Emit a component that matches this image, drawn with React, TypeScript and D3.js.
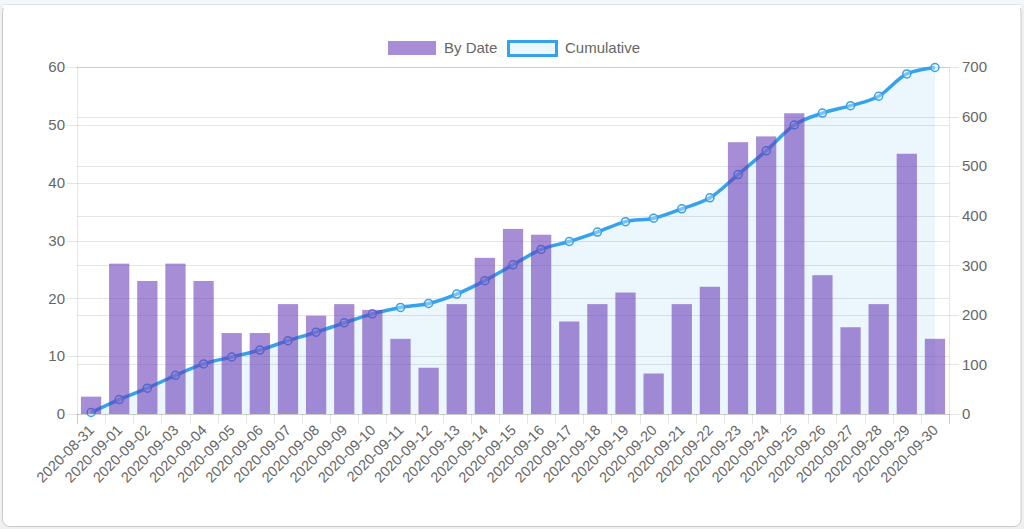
import React from "react";
import * as d3 from "d3";

const dates = [
  "2020-08-31","2020-09-01","2020-09-02","2020-09-03","2020-09-04","2020-09-05","2020-09-06",
  "2020-09-07","2020-09-08","2020-09-09","2020-09-10","2020-09-11","2020-09-12","2020-09-13",
  "2020-09-14","2020-09-15","2020-09-16","2020-09-17","2020-09-18","2020-09-19","2020-09-20",
  "2020-09-21","2020-09-22","2020-09-23","2020-09-24","2020-09-25","2020-09-26","2020-09-27",
  "2020-09-28","2020-09-29","2020-09-30",
];
const byDate = [3,26,23,26,23,14,14,19,17,19,18,13,8,19,27,32,31,16,19,21,7,19,22,47,48,52,24,15,19,45,13];
const cumulative = [3,29,52,78,101,115,129,148,165,184,202,215,223,242,269,301,332,348,367,388,395,414,436,483,531,583,607,622,641,686,699];
const leftTicks = [0,10,20,30,40,50,60];
const rightTicks = [0,100,200,300,400,500,600,700];
const seriesNames = ["By Date", "Cumulative"];

const W = 1024, H = 529;
const plot = { left: 77, right: 949, top: 67, bottom: 414 };
const barFill = "rgba(103,58,183,0.58)";
const lineColor = "#36a2eb";
const areaFill = "rgba(54,162,235,0.1)";
const gridColor = "rgba(0,0,0,0.1)";
const textColor = "#666";
const font = "'Liberation Sans', Arial, Helvetica, sans-serif";

export default function App() {
  const x = d3.scaleBand<string>().domain(dates).range([plot.left, plot.right]).padding(0);
  const bw = x.bandwidth();
  const yL = d3.scaleLinear().domain([0, 60]).range([plot.bottom, plot.top]);
  const yR = d3.scaleLinear().domain([0, 700]).range([plot.bottom, plot.top]);
  const cx = (d: string) => (x(d) as number) + bw / 2;

  const pts: [number, number][] = dates.map((d, i) => [cx(d), yR(cumulative[i])]);
  const lineGen = d3.line().curve(d3.curveMonotoneX);
  const areaGen = d3.area().curve(d3.curveMonotoneX).y0(yR(0));
  const linePath = lineGen(pts) || "";
  const areaPath = areaGen(pts as any) || "";

  const boundaries = dates.map((d) => x(d) as number).concat([plot.right]);

  return (
    <div style={{ position: "fixed", left: 0, top: 0, width: W, height: H }}>
      <svg width={W} height={H} style={{ display: "block", fontFamily: font }}>
        <rect x={0} y={0} width={W} height={H} fill="#eef0f2" />
        <rect x={0} y={0} width={W} height={5} fill="#f3f7fb" />
        <rect x={2.5} y={4.5} width={1018.5} height={522} rx={7} fill="#fff" stroke="#c9c9c9" />
        <rect x={3} y={4} width={1018} height={4} fill="#fff" />
        <line x1={3} x2={1021} y1={4.5} y2={4.5} stroke="#dde5ec" />

        {leftTicks.map((t) => (
          <line key={"gl" + t} x1={plot.left - 10} x2={plot.right} y1={Math.round(yL(t)) + 0.5} y2={Math.round(yL(t)) + 0.5} stroke={gridColor} />
        ))}
        {rightTicks.map((t) => (
          <line key={"gr" + t} x1={plot.left} x2={plot.right + 10} y1={Math.round(yR(t)) + 0.5} y2={Math.round(yR(t)) + 0.5} stroke={gridColor} />
        ))}
        <line x1={plot.left + 0.5} x2={plot.left + 0.5} y1={plot.top} y2={plot.bottom + 10} stroke={gridColor} />
        <line x1={plot.right + 0.5} x2={plot.right + 0.5} y1={plot.top} y2={plot.bottom + 10} stroke={gridColor} />
        {boundaries.map((b, i) => (
          <line key={"xt" + i} x1={Math.round(b) + 0.5} x2={Math.round(b) + 0.5} y1={plot.bottom} y2={plot.bottom + 10} stroke={gridColor} />
        ))}

        <path d={areaPath} fill={areaFill} />
        <path d={linePath} fill="none" stroke={lineColor} strokeWidth={3.5} />
        {pts.map((p, i) => (
          <circle key={"pt" + i} cx={p[0]} cy={p[1]} r={4} fill="rgba(235,245,253,0.4)" stroke={lineColor} strokeWidth={1.5} />
        ))}

        {dates.map((d, i) => {
          const w = bw * 0.72;
          return (
            <rect key={"b" + d} x={cx(d) - w / 2} y={yL(byDate[i])} width={w} height={yL(0) - yL(byDate[i])} fill={barFill} />
          );
        })}

        {leftTicks.map((t) => (
          <text key={"lt" + t} x={plot.left - 12} y={yL(t)} dy="0.35em" textAnchor="end" fontSize={15} fill={textColor}>{t}</text>
        ))}
        {rightTicks.map((t) => (
          <text key={"rt" + t} x={plot.right + 13} y={yR(t)} dy="0.35em" textAnchor="start" fontSize={15} fill={textColor}>{t}</text>
        ))}
        {dates.map((d) => (
          <text key={"xl" + d} transform={`translate(${cx(d) + 4},${plot.bottom + 17}) rotate(-45)`} textAnchor="end" fontSize={14.5} fill={textColor}>{d}</text>
        ))}

        <rect x={388} y={41} width={48} height={14} fill={barFill} />
        <text x={444} y={48} dy="0.35em" fontSize={15} fill={textColor}>{seriesNames[0]}</text>
        <rect x={508.5} y={41.5} width={48} height={14} fill={areaFill} stroke={lineColor} strokeWidth={3} />
        <text x={565} y={48} dy="0.35em" fontSize={15} fill={textColor}>{seriesNames[1]}</text>
      </svg>
    </div>
  );
}
